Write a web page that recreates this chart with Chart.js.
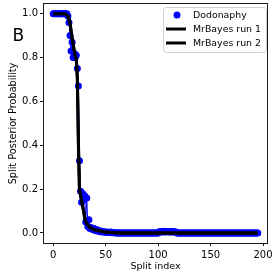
<!DOCTYPE html>
<html>
<head>
<meta charset="utf-8">
<script src="https://cdn.jsdelivr.net/npm/chart.js@4/dist/chart.umd.min.js"></script>
<style>
html,body{margin:0;padding:0;background:#fff;}
#wrap{width:274px;height:274px;}
</style>
</head>
<body>
<div id="wrap"><canvas id="c" width="274" height="274"></canvas></div>
<script>
const seriesNames = ["Dodonaphy", "MrBayes run 1", "MrBayes run 2"];
const xTicks = [0, 50, 100, 150, 200];
const yTicks = [0, 0.2, 0.4, 0.6, 0.8, 1.0];
const panelLabel = "B";
const xTitle = "Split index";
const yTitle = "Split Posterior Probability";

const dodonaphy = [
  1,1,1,1,1,1,1,1,1,1, 1,1,1,1,0.99,0.96,0.90,0.83,0.87,0.80,
  0.82,0.80,0.81,0.75,0.67,0.33,0.19,0.14,0.18,0.15, 0.17,0.05,0.16,0.03,0.06,0.02,0.025,0.018,0.015,0.02,
  0.012,0.01,0.015,0.008,0.01,0.006,0.008,0.005,0.006,0.004, 0.003,0.005,0.002,0.003,0.002,0.004,0.001,0.002,0.001,0.001,
  0,0,0,0,0,0,0,0,0,0, 0,0,0,0,0,0,0,0,0,0,
  0,0,0,0,0,0,0,0,0,0, 0,0,0,0,0,0,0,0,0,0,
  0,0.006,0.005,0.007,0.004,0.006,0.008,0.005,0.006,0.007, 0.005,0.006,0.004,0.007,0.005,0.006,0.004,0.005,0,0,
  0,0,0,0,0,0,0,0,0,0, 0,0,0,0,0,0,0,0,0,0,
  0,0,0,0,0,0,0,0,0,0, 0,0,0,0,0,0,0,0,0,0,
  0,0,0,0,0,0,0,0,0,0, 0,0,0,0,0,0,0,0,0,0,
  0,0,0,0,0,0,0,0,0,0, 0,0,0,0,0,0
];
const mrbayes1 = [
  1,1,1,1,1,1,1,1,1,1, 1,1,0.998,0.995,0.99,0.98,0.96,0.92,0.89,0.86,
  0.83,0.81,0.79,0.70,0.42,0.20,0.17,0.15,0.125,0.10, 0.065,0.05,0.045,0.037,0.03,0.026,0.022,0.02,0.018,0.016,
  0.014,0.013,0.012,0.011,0.01,0.009,0.008,0.007,0.006,0.005, 0.005,0.004,0.004,0.003,0.003,0.002,0.002,0.002,0.001,0.001,
  0.001,0,0,0,0,0,0,0,0,0, 0,0,0,0,0,0,0,0,0,0,
  0,0,0,0,0,0,0,0,0,0, 0,0,0,0,0,0,0,0,0,0,
  0,0,0,0,0,0,0,0,0,0, 0,0,0,0,0,0,0,0,0,0,
  0,0,0,0,0,0,0,0,0,0, 0,0,0,0,0,0,0,0,0,0,
  0,0,0,0,0,0,0,0,0,0, 0,0,0,0,0,0,0,0,0,0,
  0,0,0,0,0,0,0,0,0,0, 0,0,0,0,0,0,0,0,0,0,
  0,0,0,0,0,0,0,0,0,0, 0,0,0,0,0,0
];
const mrbayes2 = [
  1,1,1,1,1,1,1,1,1,1, 1,1,0.997,0.994,0.99,0.975,0.955,0.925,0.885,0.865,
  0.83,0.805,0.795,0.71,0.40,0.20,0.175,0.145,0.12,0.10, 0.07,0.052,0.044,0.036,0.031,0.025,0.023,0.019,0.018,0.015,
  0.014,0.012,0.012,0.01,0.01,0.009,0.007,0.007,0.006,0.005, 0.004,0.004,0.003,0.003,0.003,0.002,0.002,0.001,0.001,0.001,
  0,0,0,0,0,0,0,0,0,0, 0,0,0,0,0,0,0,0,0,0,
  0,0,0,0,0,0,0,0,0,0, 0,0,0,0,0,0,0,0,0,0,
  0,0,0,0,0,0,0,0,0,0, 0,0,0,0,0,0,0,0,0,0,
  0,0,0,0,0,0,0,0,0,0, 0,0,0,0,0,0,0,0,0,0,
  0,0,0,0,0,0,0,0,0,0, 0,0,0,0,0,0,0,0,0,0,
  0,0,0,0,0,0,0,0,0,0, 0,0,0,0,0,0,0,0,0,0,
  0,0,0,0,0,0,0,0,0,0, 0,0,0,0,0,0
];

const toPts = arr => arr.map((v, i) => ({x: i, y: v}));
const FONT = "'DejaVu Sans', sans-serif";

const overlay = {
  id: 'overlay',
  afterDraw(chart) {
    const ctx = chart.ctx;
    const a = chart.chartArea;
    ctx.save();
    ctx.strokeStyle = '#1a1a1a';
    ctx.lineWidth = 1;
    ctx.strokeRect(a.left + 0.5, a.top - 0.5, a.right - a.left - 1, a.bottom - a.top + 1);
    ctx.fillStyle = '#000';
    ctx.font = "17px " + FONT;
    ctx.textAlign = 'left';
    ctx.textBaseline = 'alphabetic';
    ctx.fillText(panelLabel, 12.5, 41);
    const lx = 163.5, ly = 7.5, lw = 103, lh = 45;
    ctx.beginPath();
    ctx.roundRect(lx, ly, lw, lh, 3);
    ctx.fillStyle = 'rgba(255,255,255,0.85)';
    ctx.fill();
    ctx.strokeStyle = '#d0d0d0';
    ctx.lineWidth = 1;
    ctx.stroke();
    const rows = [15, 29, 43];
    ctx.font = "9.4px " + FONT;
    ctx.textBaseline = 'middle';
    ctx.fillStyle = '#0000ff';
    ctx.beginPath();
    ctx.arc(177, rows[0], 3.5, 0, Math.PI * 2);
    ctx.fill();
    ctx.strokeStyle = '#000';
    ctx.lineWidth = 3;
    for (let k = 1; k < 3; k++) {
      ctx.beginPath();
      ctx.moveTo(166, rows[k]);
      ctx.lineTo(186, rows[k]);
      ctx.stroke();
    }
    ctx.fillStyle = '#000';
    for (let k = 0; k < 3; k++) ctx.fillText(seriesNames[k], 193, rows[k] + 0.5);
    ctx.restore();
  }
};

new Chart(document.getElementById('c'), {
  type: 'line',
  data: {
    datasets: [
      {
        label: seriesNames[0], data: toPts(dodonaphy), order: 2,
        borderColor: '#0000ff', backgroundColor: '#0000ff', borderWidth: 1,
        pointRadius: 3.5, pointBorderWidth: 0, pointBackgroundColor: '#0000ff', tension: 0
      },
      {
        label: seriesNames[1], data: toPts(mrbayes1), order: 1,
        borderColor: '#000', borderWidth: 3, pointRadius: 0, tension: 0,
        borderJoinStyle: 'round'
      },
      {
        label: seriesNames[2], data: toPts(mrbayes2), order: 0,
        borderColor: '#000', borderWidth: 3, pointRadius: 0, tension: 0,
        borderJoinStyle: 'round'
      }
    ]
  },
  options: {
    responsive: false,
    animation: false,
    devicePixelRatio: 1,
    layout: { padding: { top: 0, right: 6, left: 0, bottom: 0 } },
    plugins: { legend: { display: false }, tooltip: { enabled: false } },
    scales: {
      x: {
        type: 'linear', min: -9.75, max: 204.75,
        afterBuildTicks: s => { s.ticks = xTicks.map(v => ({value: v})); },
        afterFit: s => { s.height = 31; s.paddingLeft = 0; s.paddingRight = 0; },
        grid: { display: true, drawOnChartArea: false, drawTicks: true, tickLength: 3, tickColor: '#1a1a1a', lineWidth: 1 },
        border: { display: false },
        ticks: { autoSkip: false, maxRotation: 0, padding: 3, color: '#000', font: { family: FONT, size: 10 }, callback: v => String(v) },
        title: { display: true, text: xTitle, color: '#000', font: { family: FONT, size: 9.5 }, padding: { top: 0, bottom: 2 } }
      },
      y: {
        type: 'linear', min: -0.0456, max: 1.0442,
        afterBuildTicks: s => { s.ticks = yTicks.map(v => ({value: v})); },
        afterFit: s => { s.width = 43; s.paddingTop = 0; s.paddingBottom = 0; },
        grid: { display: true, drawOnChartArea: false, drawTicks: true, tickLength: 3, tickColor: '#1a1a1a', lineWidth: 1 },
        border: { display: false },
        ticks: { autoSkip: false, padding: 2, color: '#000', font: { family: FONT, size: 10 }, callback: v => Number(v).toFixed(1) },
        title: { display: true, text: yTitle, color: '#000', font: { family: FONT, size: 9.7 }, padding: { top: 7.5, bottom: 0 } }
      }
    }
  },
  plugins: [overlay]
});
</script>
</body>
</html>
